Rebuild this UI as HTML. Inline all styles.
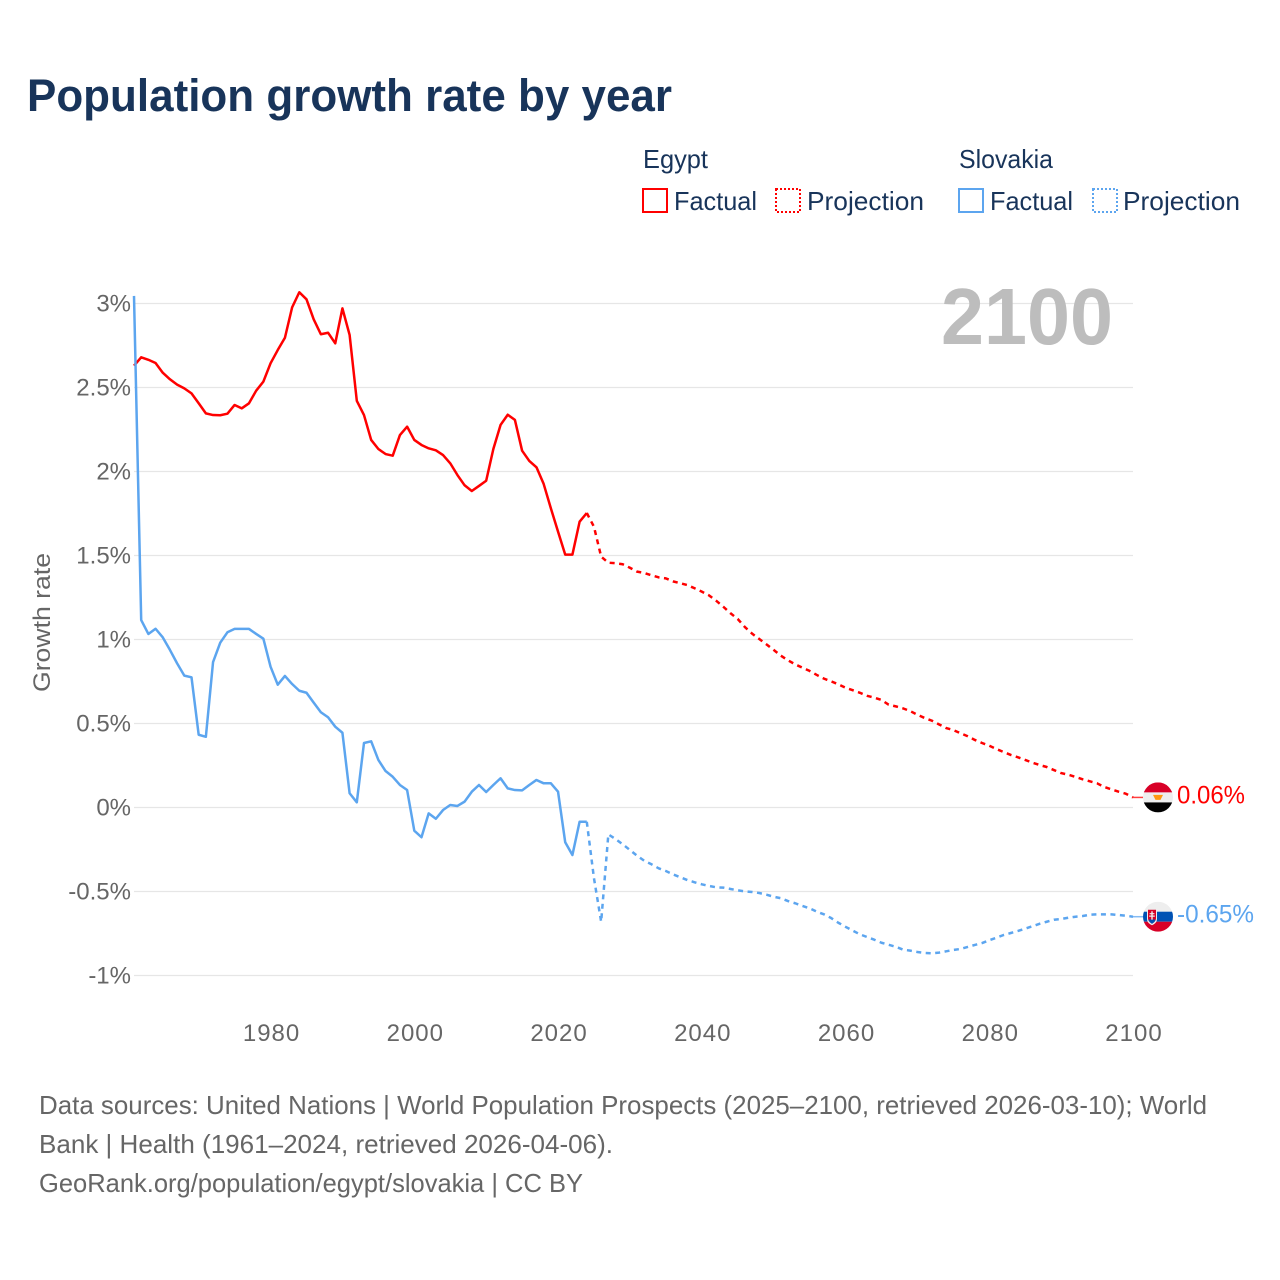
<!DOCTYPE html>
<html lang="en">
<head>
<meta charset="utf-8">
<title>Population growth rate by year</title>
<style>
html,body{margin:0;padding:0;background:#fff;}
svg{display:block;font-family:"Liberation Sans",sans-serif;}
.legend-text{font-size:26px;fill:#18345a;}
.foot{font-size:26px;fill:#666;}
.tick{font-size:24px;fill:#666;}
</style>
</head>
<body>
<svg id="chart" width="1280" height="1280" viewBox="0 0 1280 1280" xmlns="http://www.w3.org/2000/svg">
  <rect x="0" y="0" width="1280" height="1280" fill="#fff"/>
  <text x="27" y="111" font-size="45" font-weight="700" fill="#18345a" textLength="645" lengthAdjust="spacingAndGlyphs">Population growth rate by year</text>

  <g>
    <text class="legend-text" x="643" y="168" textLength="65" lengthAdjust="spacingAndGlyphs">Egypt</text>
    <text class="legend-text" x="959" y="168" textLength="94" lengthAdjust="spacingAndGlyphs">Slovakia</text>
    <g>
      <rect x="643" y="189" width="24" height="23" fill="none" stroke="#ff0000" stroke-width="2"/>
      <text class="legend-text" x="674" y="210" textLength="83" lengthAdjust="spacingAndGlyphs">Factual</text>
    </g>
    <g>
      <rect x="776" y="189" width="24" height="23" fill="none" stroke="#ff0000" stroke-width="2" stroke-dasharray="2 2"/>
      <text class="legend-text" x="807" y="210" textLength="117" lengthAdjust="spacingAndGlyphs">Projection</text>
    </g>
    <g>
      <rect x="959" y="189" width="24" height="23" fill="none" stroke="#5ca5ef" stroke-width="2"/>
      <text class="legend-text" x="990" y="210" textLength="83" lengthAdjust="spacingAndGlyphs">Factual</text>
    </g>
    <g>
      <rect x="1093" y="189" width="24" height="23" fill="none" stroke="#5ca5ef" stroke-width="2" stroke-dasharray="2 2"/>
      <text class="legend-text" x="1123" y="210" textLength="117" lengthAdjust="spacingAndGlyphs">Projection</text>
    </g>
  </g>

  <g id="grid"></g>
  <g id="yticks"></g>
  <g id="xticks"></g>
  <text transform="translate(50,622.5) rotate(-90)" text-anchor="middle" font-size="24" fill="#666" textLength="139" lengthAdjust="spacingAndGlyphs">Growth rate</text>
  <text x="941" y="344" font-size="80" font-weight="700" fill="#bdbdbd" textLength="172" lengthAdjust="spacingAndGlyphs">2100</text>
  <g id="series"></g>

  <g id="flagEgypt">
    <clipPath id="clipE"><circle cx="0" cy="0" r="15"/></clipPath>
    <g clip-path="url(#clipE)">
      <rect x="-15" y="-15" width="30" height="10" fill="#d80027"/>
      <rect x="-15" y="-5" width="30" height="10" fill="#eeeeee"/>
      <rect x="-15" y="5" width="30" height="10" fill="#000"/>
      <path d="M-5-2.5H5L2.5 2.5H-2.5Z" fill="#ff9811"/>
    </g>
  </g>
  <g id="flagSlovakia">
    <clipPath id="clipS"><circle cx="0" cy="0" r="15"/></clipPath>
    <g clip-path="url(#clipS)">
      <rect x="-15" y="-15" width="30" height="10" fill="#eeeeee"/>
      <rect x="-15" y="-5" width="30" height="10" fill="#0052b4"/>
      <rect x="-15" y="5" width="30" height="10" fill="#d80027"/>
      <path d="M-11-8H-1V2C-1 6-4 7.5-6 8.5-8 7.5-11 6-11 2Z" fill="#eee"/>
      <path d="M-10-7H-2V1.5C-2 4.5-4.5 6-6 7-7.5 6-10 4.5-10 1.5Z" fill="#d80027"/>
      <path d="M-6.7-5.5H-5.3V-3.6H-3.6V-2.4H-5.3V-1.2H-3.2V0H-5.3V3H-6.7V0H-8.8V-1.2H-6.7V-2.4H-8.4V-3.6H-6.7Z" fill="#eee"/>
      <path d="M-9.5 3.5C-8 2-7 2.5-6 3.5-5 2.5-4 2-2.5 3.5-3.5 5.5-5 6.3-6 7-7 6.3-8.5 5.5-9.5 3.5Z" fill="#0052b4"/>
    </g>
  </g>
  <text id="labelEgypt" x="1177" font-size="25" fill="#ff0000" textLength="68" lengthAdjust="spacingAndGlyphs">0.06%</text>
  <text id="labelSlovakia" x="1177" font-size="25" fill="#5ca5ef" textLength="77" lengthAdjust="spacingAndGlyphs">-0.65%</text>

  <g>
    <text class="foot" x="39" y="1114" textLength="1168" lengthAdjust="spacingAndGlyphs">Data sources: United Nations | World Population Prospects (2025–2100, retrieved 2026-03-10); World</text>
    <text class="foot" x="39" y="1153" textLength="574" lengthAdjust="spacingAndGlyphs">Bank | Health (1961–2024, retrieved 2026-04-06).</text>
    <text class="foot" x="39" y="1192" textLength="544" lengthAdjust="spacingAndGlyphs">GeoRank.org/population/egypt/slovakia | CC BY</text>
  </g>
</svg>
<script>
const xTickYears = [1980, 2000, 2020, 2040, 2060, 2080, 2100];
const yTickValues = [3, 2.5, 2, 1.5, 1, 0.5, 0, -0.5, -1];
const yTickLabels = ['3%', '2.5%', '2%', '1.5%', '1%', '0.5%', '0%', '-0.5%', '-1%'];
const factualStartYear = 1961;
const projectionStartYear = 2024;

const egyptFactual = [
  2.63, 2.68, 2.665, 2.646, 2.588, 2.549, 2.517, 2.495, 2.465, 2.406,
  2.346, 2.336, 2.335, 2.344, 2.396, 2.376, 2.406, 2.481, 2.535, 2.644,
  2.723, 2.796, 2.977, 3.067, 3.025, 2.906, 2.817, 2.826, 2.763, 2.971,
  2.813, 2.421, 2.336, 2.188, 2.134, 2.104, 2.094, 2.217, 2.267, 2.188,
  2.158, 2.138, 2.126, 2.098, 2.049, 1.979, 1.918, 1.884, 1.914, 1.945,
  2.134, 2.277, 2.338, 2.307, 2.124, 2.063, 2.025, 1.926, 1.781, 1.642,
  1.505, 1.505, 1.701, 1.753
];
const egyptProjection = [
  1.753, 1.671, 1.493, 1.457, 1.454, 1.448, 1.427, 1.404, 1.396, 1.382,
  1.370, 1.364, 1.346, 1.335, 1.324, 1.305, 1.285, 1.263, 1.231, 1.195,
  1.156, 1.122, 1.074, 1.035, 1.003, 0.971, 0.938, 0.904, 0.876, 0.852,
  0.832, 0.813, 0.789, 0.767, 0.751, 0.733, 0.713, 0.698, 0.683, 0.665,
  0.654, 0.640, 0.612, 0.602, 0.590, 0.574, 0.552, 0.533, 0.517, 0.495,
  0.473, 0.461, 0.442, 0.424, 0.402, 0.384, 0.368, 0.348, 0.330, 0.313,
  0.299, 0.283, 0.267, 0.253, 0.241, 0.223, 0.205, 0.195, 0.182, 0.168,
  0.156, 0.144, 0.122, 0.108, 0.094, 0.082, 0.06
];
const slovakiaFactual = [
  3.045, 1.116, 1.033, 1.064, 1.013, 0.938, 0.858, 0.785, 0.775, 0.433,
  0.421, 0.866, 0.981, 1.043, 1.063, 1.063, 1.063, 1.033, 1.005, 0.838,
  0.731, 0.783, 0.735, 0.695, 0.683, 0.624, 0.567, 0.537, 0.481, 0.445,
  0.085, 0.031, 0.384, 0.394, 0.283, 0.217, 0.183, 0.134, 0.104, -0.138,
  -0.177, -0.035, -0.067, -0.015, 0.015, 0.009, 0.035, 0.094, 0.134, 0.092,
  0.134, 0.174, 0.114, 0.104, 0.102, 0.134, 0.164, 0.144, 0.144, 0.094,
  -0.207, -0.283, -0.085, -0.085
];
const slovakiaProjection = [
  -0.085, -0.421, -0.680, -0.160, -0.188, -0.219, -0.253, -0.287, -0.317, -0.338,
  -0.362, -0.378, -0.398, -0.415, -0.432, -0.445, -0.457, -0.467, -0.475, -0.477,
  -0.485, -0.493, -0.499, -0.503, -0.509, -0.519, -0.531, -0.540, -0.557, -0.570,
  -0.586, -0.600, -0.620, -0.636, -0.658, -0.686, -0.710, -0.733, -0.755, -0.771,
  -0.787, -0.805, -0.817, -0.829, -0.846, -0.852, -0.860, -0.866, -0.868, -0.864,
  -0.856, -0.848, -0.842, -0.830, -0.818, -0.807, -0.790, -0.775, -0.759, -0.747,
  -0.735, -0.721, -0.707, -0.692, -0.680, -0.668, -0.664, -0.656, -0.650, -0.646,
  -0.638, -0.636, -0.636, -0.636, -0.640, -0.644, -0.65
];

const NS = 'http://www.w3.org/2000/svg';
const plotLeft = 134, plotRight = 1133;
const RED = '#ff0000', BLUE = '#5ca5ef';
function xScale(year) { return plotLeft + (year - 1961) * (plotRight - plotLeft) / (2100 - 1961); }
function yScale(v) { return 807.5 - v * 168; }
function pointsFor(values, startYear) {
  return values.map(function (v, i) { return xScale(startYear + i).toFixed(2) + ',' + yScale(v).toFixed(2); }).join(' ');
}

const gridG = document.getElementById('grid');
const yTickG = document.getElementById('yticks');
yTickValues.forEach(function (v, i) {
  const line = document.createElementNS(NS, 'line');
  
  
  line.setAttribute('x1', plotLeft);
  line.setAttribute('x2', plotRight);
  line.setAttribute('y1', yScale(v));
  line.setAttribute('y2', yScale(v));
  line.setAttribute('stroke', '#e6e6e6');
  line.setAttribute('stroke-width', '1.3');
  gridG.appendChild(line);
  const t = document.createElementNS(NS, 'text');
  
  
  t.setAttribute('class', 'tick');
  t.setAttribute('x', 131);
  t.setAttribute('y', yScale(v) + 8);
  t.setAttribute('text-anchor', 'end');
  t.textContent = yTickLabels[i];
  yTickG.appendChild(t);
});

const xTickG = document.getElementById('xticks');
xTickYears.forEach(function (yr) {
  const t = document.createElementNS(NS, 'text');
  
  
  t.setAttribute('class', 'tick');
  t.setAttribute('x', xScale(yr) + 1);
  t.setAttribute('y', 1041);
  t.setAttribute('text-anchor', 'middle');
  t.setAttribute('letter-spacing', '1');
  t.textContent = String(yr);
  xTickG.appendChild(t);
});

const seriesG = document.getElementById('series');
function addLine(name, values, startYear, color, dash) {
  const p = document.createElementNS(NS, 'polyline');
  
  
  p.setAttribute('points', pointsFor(values, startYear));
  p.setAttribute('fill', 'none');
  p.setAttribute('stroke', color);
  p.setAttribute('stroke-width', '2.5');
  p.setAttribute('stroke-linejoin', 'round');
  if (dash) p.setAttribute('stroke-dasharray', dash);
  seriesG.appendChild(p);
}
addLine('egypt-factual-line', egyptFactual, factualStartYear, RED, null);
addLine('egypt-projection-line', egyptProjection, projectionStartYear, RED, '5 4.5');
addLine('slovakia-factual-line', slovakiaFactual, factualStartYear, BLUE, null);
addLine('slovakia-projection-line', slovakiaProjection, projectionStartYear, BLUE, '5 4.5');

function addEnd(name, flagId, labelId, value, color) {
  const y = yScale(value);
  const c = document.createElementNS(NS, 'line');
  
  
  c.setAttribute('x1', plotRight);
  c.setAttribute('x2', 1143);
  c.setAttribute('y1', y);
  c.setAttribute('y2', y);
  c.setAttribute('stroke', color);
  c.setAttribute('stroke-width', '1.5');
  c.setAttribute('opacity', '0.75');
  seriesG.appendChild(c);
  document.getElementById(flagId).setAttribute('transform', 'translate(1158,' + y + ')');
  document.getElementById(labelId).setAttribute('y', y + 6);
}
addEnd('egypt-label-connector', 'flagEgypt', 'labelEgypt', egyptProjection[egyptProjection.length - 1], RED);
addEnd('slovakia-label-connector', 'flagSlovakia', 'labelSlovakia', slovakiaProjection[slovakiaProjection.length - 1], BLUE);
</script>
</body>
</html>
